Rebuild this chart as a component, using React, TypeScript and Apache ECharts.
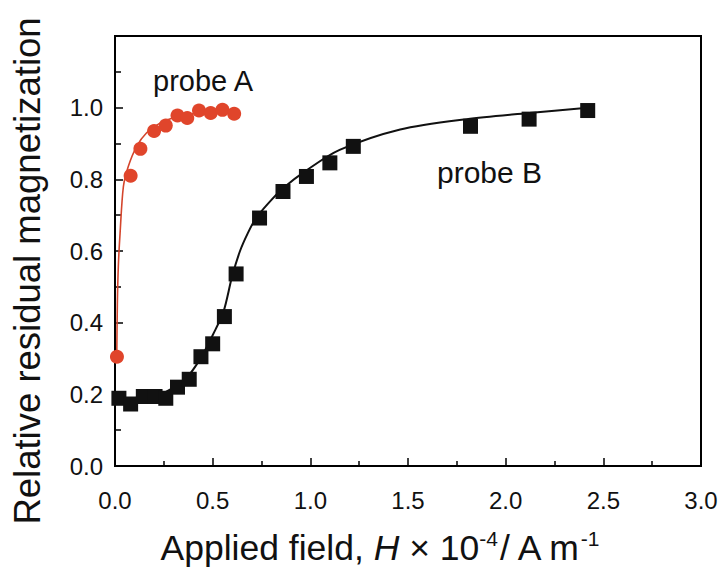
import React, { useEffect, useRef } from "react";
import * as echarts from "echarts";

const probeAX = [0.01, 0.08, 0.13, 0.2, 0.26, 0.32, 0.37, 0.43, 0.49, 0.55, 0.61];
const probeAY = [0.305, 0.81, 0.885, 0.935, 0.95, 0.978, 0.971, 0.992, 0.985, 0.994, 0.983];

const probeBX = [0.02, 0.08, 0.145, 0.205, 0.26, 0.32, 0.38, 0.44, 0.5, 0.56, 0.62, 0.74, 0.86, 0.98, 1.1, 1.22, 1.82, 2.12, 2.42];
const probeBY = [0.189, 0.173, 0.194, 0.194, 0.189, 0.22, 0.242, 0.305, 0.341, 0.417, 0.536, 0.692, 0.766, 0.808, 0.846, 0.892, 0.948, 0.968, 0.992];

const fitAX = [0.009, 0.012, 0.017, 0.026, 0.043, 0.068, 0.111, 0.162, 0.23, 0.3, 0.4, 0.5, 0.6];
const fitAY = [0.305, 0.45, 0.557, 0.65, 0.78, 0.836, 0.892, 0.93, 0.957, 0.972, 0.983, 0.99, 0.995];

const fitBX = [0.02, 0.1, 0.2, 0.26, 0.32, 0.38, 0.42, 0.46, 0.5, 0.555, 0.6, 0.64, 0.68, 0.72, 0.78, 0.86, 0.98, 1.15, 1.46, 1.8, 2.12, 2.42];
const fitBY = [0.19, 0.19, 0.195, 0.207, 0.225, 0.255, 0.285, 0.322, 0.365, 0.43, 0.53, 0.6, 0.65, 0.69, 0.73, 0.775, 0.825, 0.882, 0.939, 0.968, 0.985, 1.0];

const xTicks = { min: 0, max: 3, interval: 0.5 };
const yTicks = { min: 0, max: 1.2, interval: 0.2 };

const zip = (xs: number[], ys: number[]) => xs.map((x, i) => [x, ys[i]]);

const FONT = "Liberation Sans, Arial, sans-serif";

export default function App() {
  const ref = useRef<HTMLDivElement>(null);
  useEffect(() => {
    const chart = echarts.init(ref.current!, null, { renderer: "svg" });
    chart.setOption({
      animation: false,
      backgroundColor: "#fff",
      grid: { left: 115, top: 36, right: 24, bottom: 105, show: true, borderColor: "#000", borderWidth: 2, backgroundColor: "transparent" },
      xAxis: {
        type: "value",
        min: xTicks.min,
        max: xTicks.max,
        interval: xTicks.interval,
        axisLine: { show: true, lineStyle: { color: "#000", width: 2 } },
        axisTick: { show: true, inside: true, length: 8, lineStyle: { color: "#000", width: 1.5 } },
        minorTick: { show: true, splitNumber: 2, length: 5, lineStyle: { color: "#000", width: 1.5 } },
        splitLine: { show: false },
        axisLabel: { color: "#111", fontFamily: FONT, fontSize: 24, margin: 22, formatter: (v: number) => v.toFixed(1) },
      },
      yAxis: {
        type: "value",
        min: yTicks.min,
        max: yTicks.max,
        interval: yTicks.interval,
        axisLine: { show: true, lineStyle: { color: "#000", width: 2 } },
        axisTick: { show: true, inside: true, length: 8, lineStyle: { color: "#000", width: 1.5 } },
        minorTick: { show: true, splitNumber: 2, length: 6, lineStyle: { color: "#000", width: 1.5 } },
        splitLine: { show: false },
        axisLabel: {
          color: "#111",
          fontFamily: FONT,
          fontSize: 24,
          margin: 12,
          formatter: (v: number) => (v > 1.05 ? "" : v.toFixed(1)),
        },
      },
      graphic: [
        { type: "text", left: 153, top: 66, style: { text: "probe A", fontFamily: FONT, fontSize: 29, fill: "#111" } },
        { type: "text", left: 437, top: 157, style: { text: "probe B", fontFamily: FONT, fontSize: 30, fill: "#111" } },
        {
          type: "text",
          x: 27,
          y: 271,
          rotation: Math.PI / 2,
          style: {
            text: "Relative residual magnetization",
            fontFamily: FONT,
            fontSize: 36.5,
            fill: "#111",
            align: "center",
            verticalAlign: "middle",
          },
        },
        {
          type: "text",
          x: 380,
          y: 547,
          style: {
            text: "{a|Applied field, }{i|H}{a| × 10}{s|-4}{a|/ A m}{s|-1}",
            align: "center",
            verticalAlign: "middle",
            rich: {
              a: { fontFamily: FONT, fontSize: 35.5, fill: "#111", lineHeight: 38, verticalAlign: "bottom" },
              i: { fontFamily: FONT, fontSize: 35.5, fill: "#111", fontStyle: "italic", lineHeight: 38, verticalAlign: "bottom" },
              s: { fontFamily: FONT, fontSize: 21, fill: "#111", lineHeight: 38, verticalAlign: "top" },
            },
          },
        },
      ],
      series: [
        {
          name: "fit A",
          type: "line",
          data: zip(fitAX, fitAY),
          showSymbol: false,
          smooth: 0.3,
          lineStyle: { color: "#d4452c", width: 1.6 },
          z: 2,
        },
        {
          name: "fit B",
          type: "line",
          data: zip(fitBX, fitBY),
          showSymbol: false,
          smooth: 0.3,
          lineStyle: { color: "#111", width: 2 },
          z: 2,
        },
        {
          name: "probe A",
          type: "scatter",
          data: zip(probeAX, probeAY),
          symbol: "circle",
          symbolSize: 14,
          itemStyle: { color: "#e0452b", opacity: 1 },
          z: 3,
        },
        {
          name: "probe B",
          type: "scatter",
          data: zip(probeBX, probeBY),
          symbol: "rect",
          symbolSize: 15,
          itemStyle: { color: "#111", opacity: 1 },
          z: 3,
        },
      ],
    });
    return () => chart.dispose();
  }, []);
  return <div ref={ref} style={{ position: "fixed", left: 0, top: 0, width: 725, height: 571 }} />;
}
